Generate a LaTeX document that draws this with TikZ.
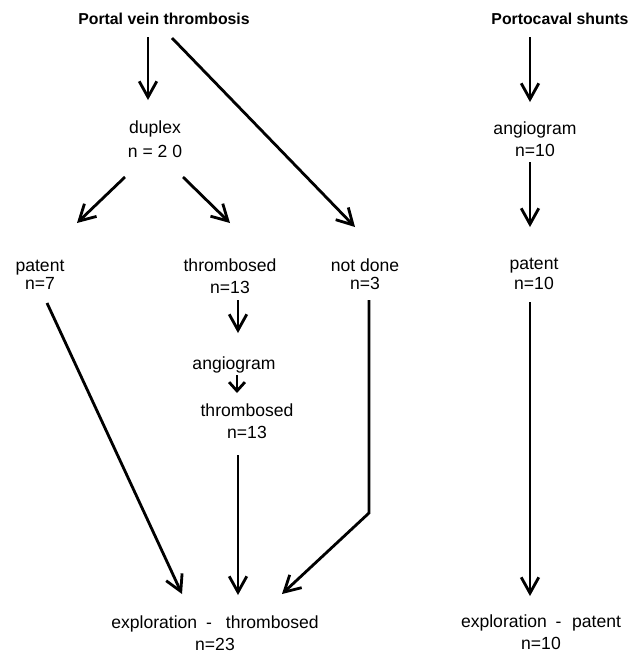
\documentclass[tikz,border=0pt]{standalone}
\usepackage{fontspec}
\setmainfont{Liberation Sans}
\usetikzlibrary{arrows.meta,calc}

\begin{document}
\begin{tikzpicture}[x=0.02cm,y=-0.02cm,
  lbl/.style={inner sep=0pt,align=center,font=\fontsize{10}{12.5}\selectfont},
  ttl/.style={inner sep=0pt,font=\bfseries\fontsize{9}{11}\selectfont},
  arr/.style={line width=1.6pt,-{Straight Barb[length=9pt,width=10pt]}}]
  \useasboundingbox (0,0) rectangle (642,654);
  % Titles
  \node[ttl] (pvt) at (164,19) {Portal vein thrombosis};
  \node[ttl] (pcs) at (560,19) {Portocaval shunts};
  % Left tree
  \node[lbl] (dup) at (155,139) {duplex\\[1pt]n = 2 0};
  \node[lbl] (pat) at (40,275) {patent\\[-2pt]n=7};
  \node[lbl] (thr) at (230,276) {thrombosed\\n=13};
  \node[lbl] (nd) at (365,274) {not done\\[-2pt]n=3};
  \node[lbl] (ang) at (234,365) {angiogram};
  \node[lbl] (thrb) at (247,421) {thrombosed\\n=13};
  \node[lbl] (expt) at (215,633) {exploration\hspace{5pt}-\hspace{8pt}thrombosed\\n=23};
  % Right tree
  \node[lbl] (pang) at (535,139) {angiogram\\n=10};
  \node[lbl] (ppat) at (534,274) {patent\\[-1pt]n=10};
  \node[lbl] (expp) at (541,632) {exploration\hspace{5pt}-\hspace{6pt}patent\\n=10};
  \coordinate (bend) at (369,513);
  % Arrows
  \draw[arr] ($(pvt)+(-16,18)$) -- ($(dup)+(-7,-39)$);
  \draw[arr] ($(pvt)+(8,19)$) -- ($(nd)+(-10,-47)$);
  \draw[arr] ($(dup)+(-30,38)$) -- ($(pat)+(37,-52)$);
  \draw[arr] ($(dup)+(28,38)$) -- ($(thr)+(0,-53)$);
  \draw[arr] ($(thr)+(8,24)$) -- ($(ang)+(4,-32)$);
  \draw[line width=1.6pt,-{Straight Barb[length=5pt,width=9pt]}] ($(ang)+(3,10)$) -- ($(thrb)+(-10,-28)$);
  \draw[arr] ($(pat)+(7,28)$) -- ($(expt)+(-33,-39)$);
  \draw[arr] ($(thrb)+(-9,34)$) -- ($(expt)+(23,-38)$);
  \draw[arr] ($(nd)+(4,26)$) -- (bend) -- ($(expt)+(67,-39)$);
  \draw[arr] ($(pcs)+(-30,18)$) -- ($(pang)+(-5,-37)$);
  \draw[arr] ($(pang)+(-5,23)$) -- ($(ppat)+(-4,-47)$);
  \draw[arr] ($(ppat)+(-4,28)$) -- ($(expp)+(-11,-36)$);
\end{tikzpicture}
\end{document}
